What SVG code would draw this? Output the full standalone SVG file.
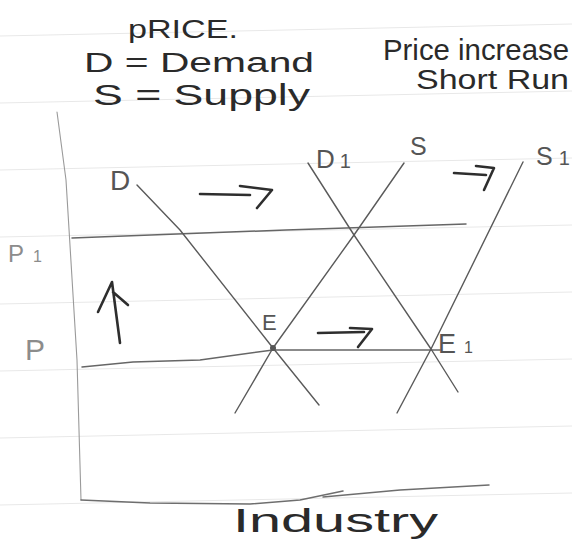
<svg xmlns="http://www.w3.org/2000/svg" width="572" height="539" viewBox="0 0 572 539">
  <style>
    .bg { fill: #ffffff; }
    .rule { stroke: #e8e8e8; stroke-width: 1; fill: none; }
    .axis { stroke: #9a9a9a; stroke-width: 1.1; fill: none; stroke-linecap: round; stroke-linejoin: round; }
    .base { stroke: #6e6e6e; stroke-width: 1.5; fill: none; stroke-linecap: round; stroke-linejoin: round; }
    .curve { stroke: #5a5a5a; stroke-width: 1.4; fill: none; stroke-linecap: round; stroke-linejoin: round; }
    .level { stroke: #666666; stroke-width: 1.5; fill: none; stroke-linecap: round; stroke-linejoin: round; }
    .ink { stroke: #2e2e2e; stroke-width: 2.6; fill: none; stroke-linecap: round; stroke-linejoin: round; }
    .head { font-family: "Liberation Sans", Arial, sans-serif; fill: #2a2a2a; }
    .lbl { font-family: "Liberation Sans", Arial, sans-serif; fill: #555555; }
    .plbl { font-family: "Liberation Sans", Arial, sans-serif; fill: #8c8c8c; }
  </style>
  <rect class="bg" x="0" y="0" width="572" height="539"/>

  <g id="paper">
    <path class="rule" d="M0 36 L572 24"/>
    <path class="rule" d="M0 103 L572 91"/>
    <path class="rule" d="M0 170 L572 158"/>
    <path class="rule" d="M0 237 L572 225"/>
    <path class="rule" d="M0 304 L572 292"/>
    <path class="rule" d="M0 371 L572 359"/>
    <path class="rule" d="M0 438 L572 426"/>
    <path class="rule" d="M0 505 L572 493"/>
  </g>

  <g id="title">
    <text class="head" x="128" y="38" font-size="26" textLength="110" lengthAdjust="spacingAndGlyphs">pRICE.</text>
    <text class="head" x="84" y="72" font-size="27" textLength="230" lengthAdjust="spacingAndGlyphs">D = Demand</text>
    <text class="head" x="93" y="105" font-size="30" textLength="217" lengthAdjust="spacingAndGlyphs">S = Supply</text>
    <text class="head" x="383" y="60" font-size="29" textLength="186" lengthAdjust="spacingAndGlyphs">Price increase</text>
    <text class="head" x="416" y="89" font-size="27" textLength="153" lengthAdjust="spacingAndGlyphs">Short Run</text>
  </g>

  <g id="axes">
    <path class="axis" d="M57 112 L66 180 L77 360 L81 500"/>
    <path class="base" d="M81 500 L150 503 L250 504 L300 500 L343 491"/>
    <path class="base" d="M323 497 L400 490 L489 485"/>
    <text class="head" x="233" y="532" font-size="33" textLength="205" lengthAdjust="spacingAndGlyphs">Industry</text>
  </g>

  <g id="price-levels">
    <path class="level" d="M72 238 L286 230 L466 224"/>
    <path class="level" d="M82 367 L133 362 L200 360 L273 350 L440 350"/>
    <text class="plbl" x="8" y="262" font-size="24">P<tspan dx="9" font-size="16">1</tspan></text>
    <text class="plbl" x="25" y="360" font-size="30">P</text>
  </g>

  <g id="connectors">
    <path id="curve-D" class="curve" d="M137 185 L180 230 L273 348 L319 405"/>
    <path id="curve-S" class="curve" d="M404 163 L354 235 L273 348 L235 413"/>
    <path id="curve-D1" class="curve" d="M308 163 L354 235 L431 349 L458 392"/>
    <path id="curve-S1" class="curve" d="M523 162 L431 349 L397 413"/>
  </g>

  <g id="curve-labels">
    <text class="lbl" x="110" y="190" font-size="28">D</text>
    <text class="lbl" x="316" y="168" font-size="26">D<tspan dx="5" font-size="20">1</tspan></text>
    <text class="lbl" x="410" y="155" font-size="25">S</text>
    <text class="lbl" x="536" y="165" font-size="25">S<tspan dx="6" font-size="20">1</tspan></text>
  </g>

  <g id="node-E">
    <circle cx="273" cy="348" r="3" fill="#555555"/>
    <text class="lbl" x="262" y="330" font-size="22">E</text>
  </g>
  <g id="node-E1">
    <text class="lbl" x="438" y="353" font-size="27">E<tspan dx="8" font-size="16">1</tspan></text>
  </g>

  <g id="shift-arrows">
    <path class="ink" d="M120 343 L112 282 M112 282 L98 312 M113 292 L128 305"/>
    <path class="ink" d="M200 194 L250 195 M240 186 L272 190 L257 208"/>
    <path class="ink" d="M454 173 L486 175 M476 166 L494 168 L484 190"/>
    <path class="ink" d="M318 333 L364 332 M350 328 L372 329 L358 347"/>
  </g>
</svg>
